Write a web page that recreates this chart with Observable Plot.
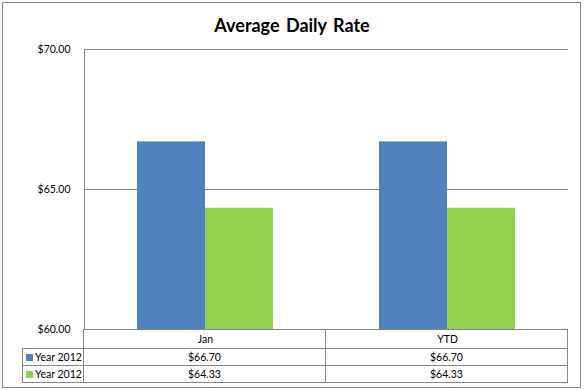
<!DOCTYPE html>
<html><head><meta charset="utf-8">
<script src="https://cdn.jsdelivr.net/npm/d3@7"></script>
<script src="https://cdn.jsdelivr.net/npm/@observablehq/plot@0.6"></script>
<style>
body{margin:0;background:#fff;font-family:Lato,"Open Sans",sans-serif;}
#wrap{position:relative;width:584px;height:390px;overflow:hidden;}
#border{position:absolute;left:2px;top:2px;width:577px;height:384px;border:1px solid #868686;}
#title{position:absolute;left:0;top:14px;width:584px;text-align:center;font:bold 18px Lato,sans-serif;color:#000;word-spacing:2px;}
#chart{position:absolute;left:0;top:0;}
#table{position:absolute;left:22px;top:329px;border-collapse:collapse;table-layout:fixed;width:546px;font:10.5px Lato,sans-serif;color:#000;}
#table td{border:1px solid #868686;padding:0;text-align:center;white-space:nowrap;overflow:hidden;}
#table td.lbl{text-align:left;padding-left:3px;}
#table td.blank{border:none;}
.sw{display:inline-block;width:7px;height:7px;margin-right:2px;vertical-align:0px;}
</style>
</head><body>
<div id="wrap">
  <div id="border"></div>
  <div id="chart"></div>
  <div id="title"></div>
  <table id="table"></table>
</div>
<script>
const titleText = "Average Daily Rate";
const categories = ["Jan", "YTD"];
const seriesKeys = ["a", "b"];
const seriesLabels = ["Year 2012", "Year 2012"];
const seriesA = [66.70, 66.70];
const seriesB = [64.33, 64.33];
const yTicks = [60, 65, 70];
const colors = ["#4F81BD", "#92D050"];

const fmt = d => "$" + d.toFixed(2);
const seriesValues = [seriesA, seriesB];
const rows = categories.flatMap((c, i) => seriesKeys.map((k, j) => ({cat: c, key: k, value: seriesValues[j][i]})));

document.getElementById("title").textContent = titleText;

const chart = Plot.plot({
  width: 584, height: 390,
  marginTop: 49, marginLeft: 83, marginRight: 16, marginBottom: 61,
  style: {fontFamily: "Lato, sans-serif", fontSize: "10.5px", color: "#000", background: "transparent"},
  fx: {domain: categories, padding: 0, label: null, axis: "bottom", tickSize: 0, tickPadding: 6},
  x: {domain: seriesKeys, paddingInner: 0, paddingOuter: 0.754, axis: null},
  y: {domain: [60, 70], ticks: yTicks, tickFormat: fmt, tickSize: 0, tickPadding: 14, label: null},
  color: {domain: seriesKeys, range: colors},
  marks: [
    Plot.ruleY(yTicks, {stroke: "#868686", strokeOpacity: 1}),
    Plot.barY(rows, {fx: "cat", x: "key", y1: 60, y2: "value", fill: "key"}),
    Plot.frame({anchor: "left", facetAnchor: "left", stroke: "#868686", strokeOpacity: 1})
  ]
});
document.getElementById("chart").appendChild(chart);

// data table
const table = document.getElementById("table");
const cg = document.createElement("colgroup");
[61, 242, 242].forEach(w => { const c = document.createElement("col"); c.style.width = w + "px"; cg.appendChild(c); });
table.appendChild(cg);
const hr = document.createElement("tr");
hr.style.height = "19px";
const b = document.createElement("td"); b.className = "blank"; hr.appendChild(b);
categories.forEach(() => { const td = document.createElement("td"); hr.appendChild(td); });
table.appendChild(hr);
seriesLabels.forEach((lab, j) => {
  const tr = document.createElement("tr");
  tr.style.height = "17px";
  const l = document.createElement("td"); l.className = "lbl";
  const sw = document.createElement("span"); sw.className = "sw"; sw.style.background = colors[j];
  l.appendChild(sw); l.appendChild(document.createTextNode(lab));
  tr.appendChild(l);
  categories.forEach((c, i) => { const td = document.createElement("td"); td.textContent = fmt(seriesValues[j][i]); tr.appendChild(td); });
  table.appendChild(tr);
});
</script>
</body></html>
